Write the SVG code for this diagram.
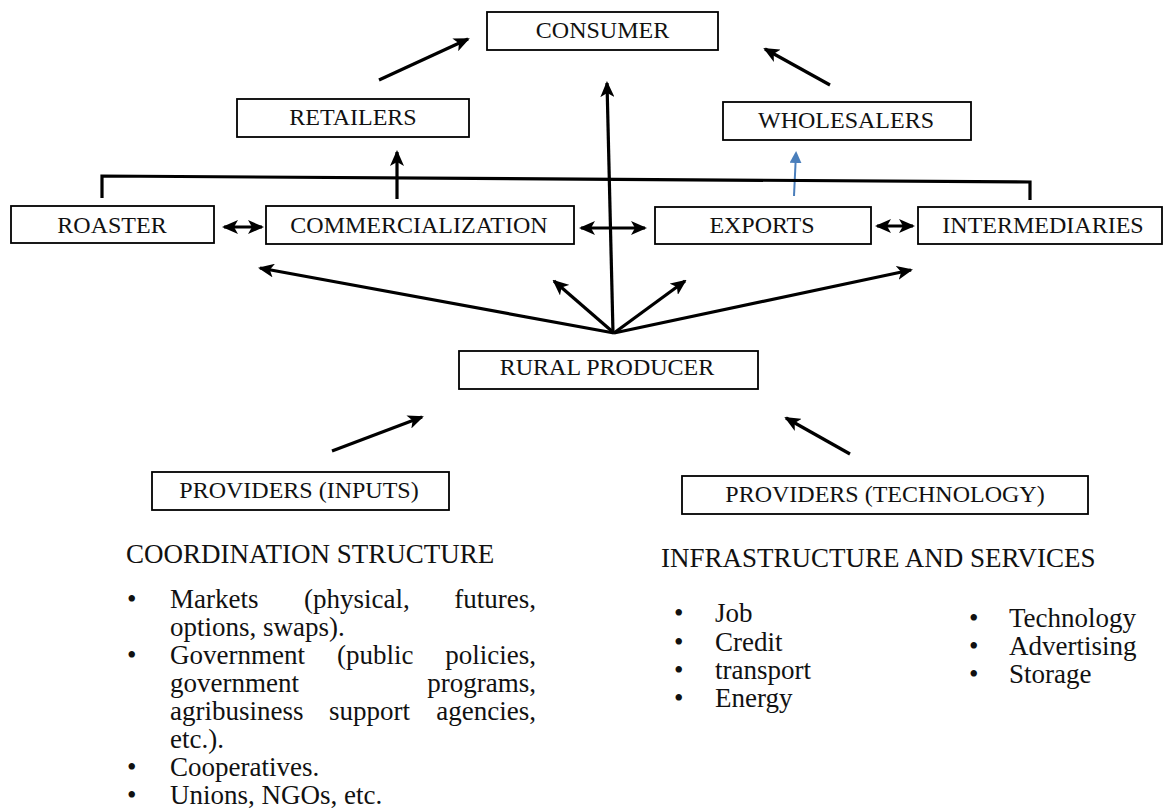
<svg xmlns="http://www.w3.org/2000/svg" width="1163" height="811" viewBox="0 0 1163 811">
<style>
.box{fill:#fff;stroke:#000;stroke-width:1.8}
.lbl{font-family:"Liberation Serif","Times New Roman",serif;font-size:24px;fill:#111;text-anchor:middle}
.txt{font-family:"Liberation Serif","Times New Roman",serif;font-size:27px;fill:#111}
.ln{fill:none;stroke:#000;stroke-width:3.2}
.ar{fill:none;stroke:#000;stroke-width:3.2;marker-end:url(#ah)}
.dbl{fill:none;stroke:#000;stroke-width:3.2;marker-start:url(#ahs);marker-end:url(#ah)}
</style>
<defs>
<marker id="ah" markerUnits="userSpaceOnUse" markerWidth="16" markerHeight="14" refX="14" refY="7" orient="auto"><path d="M0,0 L16,7 L0,14 L4,7 Z" fill="#000"/></marker>
<marker id="ahs" markerUnits="userSpaceOnUse" markerWidth="16" markerHeight="14" refX="2" refY="7" orient="auto"><path d="M16,0 L0,7 L16,14 L12,7 Z" fill="#000"/></marker>
<marker id="ahb" markerUnits="userSpaceOnUse" markerWidth="12" markerHeight="12" refX="10" refY="6" orient="auto"><path d="M0,0 L12,6 L0,12 Z" fill="#4a7ebb"/></marker>
</defs>
<rect width="1163" height="811" fill="#fff"/>
<g id="connectors">
<line class="ar" x1="379" y1="80" x2="468" y2="39"/>
<line class="ar" x1="830" y1="85" x2="765" y2="49"/>
<line class="ar" x1="613" y1="333" x2="607" y2="83"/>
<line class="ar" x1="397" y1="199" x2="397" y2="152"/>
<line x1="794" y1="196" x2="796" y2="153" stroke="#4a7ebb" stroke-width="2" marker-end="url(#ahb)"/>
<polyline class="ln" points="102,198 102,176 1030,182 1030,200"/>
<line class="dbl" x1="224" y1="227" x2="262" y2="227"/>
<line class="dbl" x1="581" y1="228" x2="645" y2="228"/>
<line class="dbl" x1="877" y1="226" x2="913" y2="226"/>
<line class="ar" x1="614" y1="333" x2="260" y2="268"/>
<line class="ar" x1="614" y1="333" x2="554" y2="281"/>
<line class="ar" x1="614" y1="333" x2="685" y2="281"/>
<line class="ar" x1="614" y1="333" x2="911" y2="270"/>
<line class="ar" x1="332" y1="451" x2="422" y2="417"/>
<line class="ar" x1="850" y1="454" x2="786" y2="418"/>
</g>
<g id="consumer"><rect class="box" x="487" y="12" width="231" height="38"/><text class="lbl" x="602.5" y="38">CONSUMER</text></g>
<g id="retailers"><rect class="box" x="237" y="99" width="232" height="38"/><text class="lbl" x="353" y="125">RETAILERS</text></g>
<g id="wholesalers"><rect class="box" x="723" y="102" width="248" height="38"/><text class="lbl" x="846" y="128">WHOLESALERS</text></g>
<g id="roaster"><rect class="box" x="11" y="206" width="203" height="37"/><text class="lbl" x="112" y="233">ROASTER</text></g>
<g id="commercialization"><rect class="box" x="266" y="206" width="308" height="38"/><text class="lbl" x="419" y="233">COMMERCIALIZATION</text></g>
<g id="exports"><rect class="box" x="655" y="207" width="216" height="37"/><text class="lbl" x="762" y="233">EXPORTS</text></g>
<g id="intermediaries"><rect class="box" x="918" y="207" width="244" height="37"/><text class="lbl" x="1043" y="233">INTERMEDIARIES</text></g>
<g id="rural-producer"><rect class="box" x="459" y="351" width="299" height="38"/><text class="lbl" x="607" y="375">RURAL PRODUCER</text></g>
<g id="providers-inputs"><rect class="box" x="152" y="472" width="297" height="38"/><text class="lbl" x="299" y="498">PROVIDERS (INPUTS)</text></g>
<g id="providers-technology"><rect class="box" x="682" y="476" width="406" height="38"/><text class="lbl" x="885" y="502">PROVIDERS (TECHNOLOGY)</text></g>
<g id="coordination-structure" class="txt">
<text x="126" y="563">COORDINATION STRUCTURE</text>
<text x="127" y="608">•</text><text x="170" y="608">Markets</text><text x="304" y="608">(physical,</text><text x="536" y="608" text-anchor="end">futures,</text>
<text x="170" y="636">options, swaps).</text>
<text x="127" y="664">•</text><text x="170" y="664">Government</text><text x="337" y="664">(public</text><text x="536" y="664" text-anchor="end">policies,</text>
<text x="170" y="692">government</text><text x="536" y="692" text-anchor="end">programs,</text>
<text x="170" y="720">agribusiness</text><text x="329" y="720">support</text><text x="536" y="720" text-anchor="end">agencies,</text>
<text x="170" y="748">etc.).</text>
<text x="127" y="776">•</text><text x="170" y="776">Cooperatives.</text>
<text x="127" y="804">•</text><text x="170" y="804">Unions, NGOs, etc.</text>
</g>
<g id="infrastructure-services" class="txt">
<text x="661" y="567">INFRASTRUCTURE AND SERVICES</text>
<text x="674" y="622">•</text><text x="715" y="622">Job</text>
<text x="674" y="651">•</text><text x="715" y="651">Credit</text>
<text x="674" y="679">•</text><text x="715" y="679">transport</text>
<text x="674" y="707">•</text><text x="715" y="707">Energy</text>
<text x="969" y="627">•</text><text x="1009" y="627">Technology</text>
<text x="969" y="655">•</text><text x="1009" y="655">Advertising</text>
<text x="969" y="683">•</text><text x="1009" y="683">Storage</text>
</g>
</svg>
